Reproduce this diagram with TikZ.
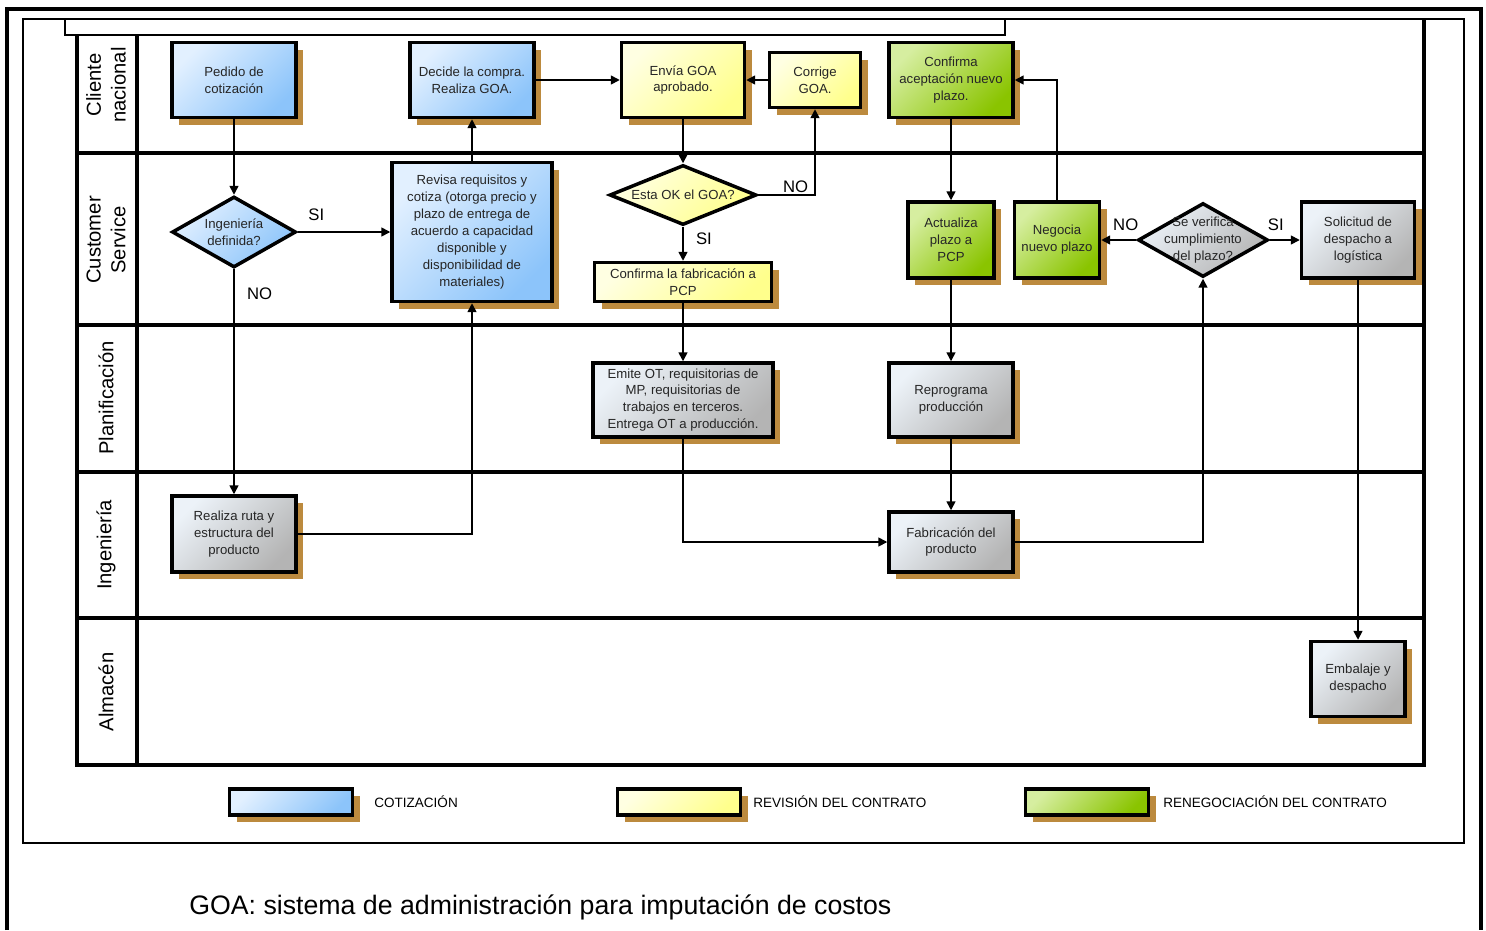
\documentclass[tikz,border=0pt]{standalone}
\usepackage{fontspec}
\setmainfont{Liberation Sans}
\usepackage{tikz}
\usetikzlibrary{shapes}
\usetikzlibrary{shadows}
\usetikzlibrary{arrows.meta}
\definecolor{shadowbr}{RGB}{188,138,62}
\definecolor{bluelt}{RGB}{226,240,255}
\definecolor{bluedk}{RGB}{140,196,250}
\definecolor{yellt}{RGB}{255,255,226}
\definecolor{yeldk}{RGB}{255,255,140}
\definecolor{grnlt}{RGB}{214,238,160}
\definecolor{grndk}{RGB}{138,196,0}
\definecolor{graylt}{RGB}{236,242,248}
\definecolor{graydk}{RGB}{180,180,180}
\tikzset{
    boxbase/.style = {rectangle, line width=2pt, draw=black, align=center, inner sep=1pt, font=\fontsize{7.5}{9.6}\selectfont, text=black!85, drop shadow={shadow xshift=4pt, shadow yshift=-4pt, fill=shadowbr, opacity=1}},
    mynodeb/.style = {boxbase, top color=bluelt, bottom color=bluedk, shading angle=45},
    mynodey/.style = {boxbase, top color=yellt, bottom color=yeldk, shading angle=45},
    mynodeg/.style = {boxbase, top color=grnlt, bottom color=grndk, shading angle=45},
    mynodegr/.style = {boxbase, top color=graylt, bottom color=graydk, shading angle=45},
    diam/.style = {diamond, line width=2pt, draw=black, inner sep=0pt},
    diamtxt/.style = {align=center, inner sep=0pt, font=\fontsize{7.5}{9.6}\selectfont, text=black!85},
    lanelbl/.style = {rotate=90, align=center, font=\fontsize{11.5}{14}\selectfont},
    lane/.style = {line width=2pt, black},
    edgen/.style = {-{Triangle[length=5pt,width=5pt]}, line width=0.9pt, black},
    edgel/.style = {font=\fontsize{9.5}{11}\selectfont, inner sep=1pt},
    legtxt/.style = {anchor=west, font=\fontsize{7.7}{9}\selectfont, inner sep=0pt}
}
\begin{document}
\begin{tikzpicture}[x=0.02cm,y=-0.02cm]
\useasboundingbox (0,0) rectangle (1486,930);
\draw[line width=2pt] (7,930) -- (7,9) -- (1481,9) -- (1481,930);
\draw[line width=1.5pt] (23,19) rectangle (1464,843);
\draw[line width=0.6pt] (65,19) rectangle (1005,35);
%
\draw[lane] (77,35) -- (77,765) -- (1424,765) -- (1424,19);
\draw[lane] (137,35) -- (137,765);
\draw[lane] (77,153) -- (1424,153);
\draw[lane] (77,325) -- (1424,325);
\draw[lane] (77,472) -- (1424,472);
\draw[lane] (77,618) -- (1424,618);
\node[lanelbl] at (106,85) (lcli) {Cliente\\nacional};
\node[lanelbl] at (106,240) (lcus) {Customer\\Service};
\node[lanelbl] at (106,398) (lpla) {Planificación};
\node[lanelbl] at (106,545) (ling) {Ingeniería};
\node[lanelbl] at (106,692) (lalm) {Almacén};
%
\node[mynodeb, minimum width=2.48cm, minimum height=1.5cm] at (234,80) (pedido) {Pedido de\\cotización};
\node[mynodeb, minimum width=2.48cm, minimum height=1.5cm] at (472,80) (decide) {Decide la compra.\\Realiza GOA.};
\node[mynodey, minimum width=2.46cm, minimum height=1.5cm] at (683,80) (envia) {Envía GOA\\aprobado.};
\node[mynodey, minimum width=1.82cm, minimum height=1.1cm] at (815,80) (corrige) {Corrige\\GOA.};
\node[mynodeg, minimum width=2.48cm, minimum height=1.5cm] at (951,80) (confacep) {Confirma\\aceptación nuevo\\plazo.};
\node[diam, top color=bluelt, bottom color=bluedk, shading angle=45, minimum width=2.48cm, minimum height=1.42cm] at (234,232) (ingdef) {};
\node[diamtxt] at (ingdef) (ingdeft) {Ingeniería\\definida?};
\node[mynodeb, minimum width=3.2cm, minimum height=2.78cm] at (472,232) (revisa) {Revisa requisitos y\\cotiza (otorga precio y\\plazo de entrega de\\acuerdo a capacidad\\disponible y\\disponibilidad de\\materiales)};
\node[diam, top color=yellt, bottom color=yeldk, shading angle=45, minimum width=2.94cm, minimum height=1.2cm] at (683,195) (estaok) {};
\node[diamtxt] at (estaok) (estaokt) {Esta OK el GOA?};
\node[mynodey, minimum width=3.54cm, minimum height=0.78cm] at (683,282) (conffab) {Confirma la fabricación a\\PCP};
\node[mynodeg, minimum width=1.72cm, minimum height=1.52cm] at (951,240) (actualiza) {Actualiza\\plazo a\\PCP};
\node[mynodeg, minimum width=1.7cm, minimum height=1.52cm] at (1057,240) (negocia) {Negocia\\nuevo plazo};
\node[diam, top color=graylt, bottom color=graydk, shading angle=45, minimum width=2.6cm, minimum height=1.48cm] at (1203,240) (severif) {};
\node[diamtxt] at (severif) (severift) {Se verifica\\cumplimiento\\del plazo?};
\node[mynodegr, minimum width=2.26cm, minimum height=1.52cm] at (1358,240) (solicitud) {Solicitud de\\despacho a\\logística};
\node[mynodegr, minimum width=3.6cm, minimum height=1.48cm] at (683,400) (emite) {Emite OT, requisitorias de\\MP, requisitorias de\\trabajos en terceros.\\Entrega OT a producción.};
\node[mynodegr, minimum width=2.48cm, minimum height=1.48cm] at (951,400) (reprograma) {Reprograma\\producción};
\node[mynodegr, minimum width=2.48cm, minimum height=1.52cm] at (234,534) (realiza) {Realiza ruta y\\estructura del\\producto};
\node[mynodegr, minimum width=2.48cm, minimum height=1.2cm] at (951,542) (fabric) {Fabricación del\\producto};
\node[mynodegr, minimum width=1.88cm, minimum height=1.5cm] at (1358,679) (embalaje) {Embalaje y\\despacho};
%
\draw[edgen] (pedido) -- (ingdef);
\draw[edgen] (ingdef) -- (revisa) node[edgel, pos=0.2, above=5pt] {SI};
\draw[edgen] (ingdef) -- (realiza) node[edgel, pos=0.11, right=6pt] {NO};
\draw[edgen] (realiza) -| (revisa);
\draw[edgen] (revisa) -- (decide);
\draw[edgen] (decide) -- (envia);
\draw[edgen] (envia) -- (estaok);
\draw[edgen] (estaok) -| (corrige) node[edgel, pos=0.33, above] {NO};
\draw[edgen] (corrige) -- (envia);
\draw[edgen] (estaok) -- (conffab) node[edgel, pos=0.35, right=6pt] {SI};
\draw[edgen] (conffab) -- (emite);
\draw[edgen] (emite) |- (fabric);
\draw[edgen] (confacep) -- (actualiza);
\draw[edgen] (actualiza) -- (reprograma);
\draw[edgen] (reprograma) -- (fabric);
\draw[edgen] (fabric) -| (severif);
\draw[edgen] (severif) -- (negocia) node[edgel, pos=0.3, above=4pt] {NO};
\draw[edgen] (severif) -- (solicitud) node[edgel, pos=0.2, above=4pt] {SI};
\draw[edgen] (negocia) |- (confacep);
\draw[edgen] (solicitud) -- (embalaje);
%
\node[mynodeb, minimum width=2.46cm, minimum height=0.52cm] at (291,802) (legb) {};
\node[legtxt] at (374,802) (legbt) {COTIZACIÓN};
\node[mynodey, minimum width=2.46cm, minimum height=0.52cm] at (679,802) (legy) {};
\node[legtxt] at (753,802) (legyt) {REVISIÓN DEL CONTRATO};
\node[mynodeg, minimum width=2.46cm, minimum height=0.52cm] at (1087,802) (legg) {};
\node[legtxt] at (1163,802) (leggt) {RENEGOCIACIÓN DEL CONTRATO};
\node[anchor=west, font=\fontsize{15.2}{17}\selectfont, inner sep=0pt] at (189,907) (nota) {GOA: sistema de administración para imputación de costos};
\end{tikzpicture}
\end{document}
